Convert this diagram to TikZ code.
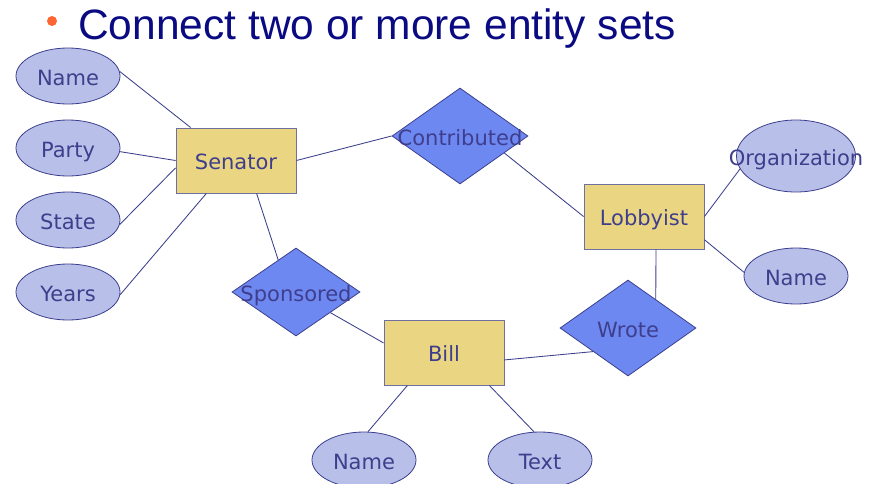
\documentclass[tikz,border=0pt]{standalone}
\usepackage{fontspec}
\setmainfont{DejaVu Sans}
\newfontfamily\titlefont{Liberation Sans}
\usetikzlibrary{shapes.geometric}
\definecolor{attrfill}{RGB}{184,192,234}
\definecolor{entfill}{RGB}{234,214,130}
\definecolor{relfill}{RGB}{110,136,242}
\definecolor{edgeblue}{RGB}{60,64,140}
\definecolor{rectgrey}{RGB}{112,112,160}
\definecolor{labelblue}{RGB}{62,62,140}
\definecolor{titleblue}{RGB}{10,10,130}
\definecolor{bulletorange}{RGB}{255,102,51}

\begin{document}
\begin{tikzpicture}[x=1pt,y=-1pt,
  lbl/.style={font=\fontsize{21}{25}\selectfont,text=labelblue,inner sep=0pt,text height=15.3pt,text depth=0pt,yshift=-1.5pt},
  attr/.style={ellipse,draw=edgeblue,fill=attrfill,inner sep=0pt,minimum width=104pt,minimum height=56pt,line width=0.8pt},
  entity/.style={rectangle,draw=rectgrey,fill=entfill,inner sep=0pt,minimum width=120pt,minimum height=65pt,line width=0.9pt},
  rel/.style={diamond,draw=edgeblue,fill=relfill,inner sep=0pt,minimum width=136pt,minimum height=96pt,line width=0.8pt},
  link/.style={draw=edgeblue,line width=0.85pt}]
\def\pw{871}
\def\ph{483}

\clip (0,0) rectangle (\pw,\ph);
\fill[white] (0,0) rectangle (\pw,\ph);

\node[circle,fill=bulletorange,minimum size=10pt,inner sep=0pt] (bullet) at (52,21) {};
\node[anchor=base west,inner sep=0pt,text=titleblue,font=\titlefont\fontsize{42.5}{50}\selectfont] (title) at (78,39.5) {Connect two or more entity sets};

\node[attr,label={[lbl]center:Name}] (sname) at (68,76) {};
\node[attr,label={[lbl]center:Party}] (sparty) at (68,148) {};
\node[attr,label={[lbl]center:State}] (sstate) at (68,220) {};
\node[attr,label={[lbl]center:Years}] (syears) at (68,292) {};

\node[entity,label={[lbl]center:Senator}] (senator) at (236,160.5) {};
\node[entity,label={[lbl]center:Lobbyist}] (lobbyist) at (644,216.5) {};
\node[entity,label={[lbl]center:Bill}] (bill) at (444,352.5) {};

\node[rel,label={[lbl]center:Contributed}] (contributed) at (460,136) {};
\node[rel,minimum width=128pt,minimum height=88pt,label={[lbl]center:Sponsored}] (sponsored) at (296,292) {};
\node[rel,label={[lbl]center:Wrote}] (wrote) at (628,328) {};

\node[attr,minimum width=119pt,minimum height=72pt,label={[lbl]center:Organization}] (orgn) at (796,156) {};
\node[attr,label={[lbl]center:Name}] (lname) at (796,276) {};
\node[attr,label={[lbl]center:Name}] (bname) at (364,460) {};
\node[attr,label={[lbl]center:Text}] (btext) at (540,460) {};

\draw[link] (sname.5) -- (senator.144);
\draw[link] (sparty.-4) -- (senator.west);
\draw[link] (sstate.-5) -- (senator.187);
\draw[link] (syears.-3) -- (senator.228);
\draw[link] (senator.east) -- (contributed.west);
\draw[link] (contributed.-21) -- (lobbyist.west);
\draw[link] (lobbyist.east) -- (orgn.193);
\draw[link] (lobbyist.-21) -- (lname.176);
\draw[link] (lobbyist.-70) -- (wrote.46);
\draw[link] (wrote.214) -- (bill.-7);
\draw[link] (senator.-58) -- (sponsored.119);
\draw[link] (sponsored.-31) -- (bill.171);
\draw[link] (bill.222) -- (bname.82);
\draw[link] (bill.-36) -- (btext.102);

\end{tikzpicture}
\end{document}
